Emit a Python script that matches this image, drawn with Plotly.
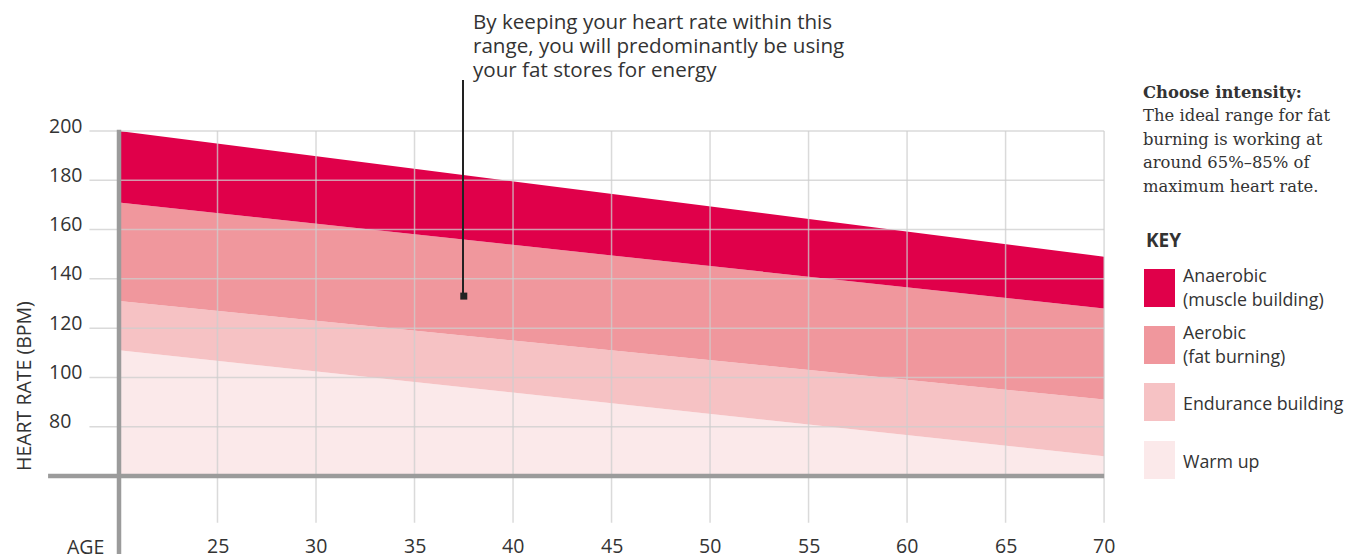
import plotly.graph_objects as go

# chart data
ages = [20, 70]
max_hr = [200, 149]
anaerobic_low = [171, 128]
aerobic_low = [131, 91]
endurance_low = [111, 68]
baseline = [60, 60]

zone_names = ["Warm up", "Endurance building", "Aerobic\n(fat burning)", "Anaerobic\n(muscle building)"]
zone_colors = ["#fbe9ea", "#f6c2c4", "#f0979d", "#e0004a"]

x_ticks = [25, 30, 35, 40, 45, 50, 55, 60, 65, 70]
y_ticks = [80, 100, 120, 140, 160, 180, 200]

callout_lines = [
    "By keeping your heart rate within this",
    "range, you will predominantly be using",
    "your fat stores for energy",
]
note_lines = [
    "<b>Choose intensity:</b>",
    "The ideal range for fat",
    "burning is working at",
    "around 65%–85% of",
    "maximum heart rate.",
]

# page body has an 8px margin, so the figure starts at (8, 8) on screen
OFF = 8
W, H = 1352 - OFF, 554 - OFF
# plot area on screen: x 40..1110, y 120..554
PX0, PX1, PY0, PY1 = 40, 1110, 120, 554
L, R, T, B = PX0 - OFF, W - (PX1 - OFF), PY0 - OFF, H - (PY1 - OFF)


def px(x):
    return (x - PX0) / (PX1 - PX0)


def py(y):
    return (PY1 - y) / (PY1 - PY0)


GRID = "rgba(205,205,205,0.75)"
AXIS = "#9b9b9b"
TEXT = "#333333"
SANS = "Open Sans"
SERIF = "DejaVu Serif"

fig = go.Figure()

# stacked zone bands, bottom to top
bounds = [baseline, endurance_low, aerobic_low, anaerobic_low, max_hr]
fig.add_trace(go.Scatter(x=ages, y=bounds[0], mode="lines", line=dict(width=0),
                         hoverinfo="skip", showlegend=False))
for i, color in enumerate(zone_colors):
    fig.add_trace(go.Scatter(
        x=ages, y=bounds[i + 1], mode="lines", line=dict(width=0),
        fill="tonexty", fillcolor=color, name=zone_names[i].replace("\n", " "),
        showlegend=False,
    ))

shapes = []
# horizontal gridlines
for v in y_ticks:
    shapes.append(dict(type="line", x0=18.5, x1=70, y0=v, y1=v,
                       line=dict(color=GRID, width=1.5)))
# vertical gridlines
for a in x_ticks:
    shapes.append(dict(type="line", x0=a, x1=a, y0=41, y1=200,
                       line=dict(color=GRID, width=1.5)))
# axis lines
shapes.append(dict(type="line", x0=16.4, x1=70, y0=60, y1=60,
                   line=dict(color=AXIS, width=4.5)))
shapes.append(dict(type="line", x0=20, x1=20, y0=28, y1=200.5,
                   line=dict(color=AXIS, width=4.5)))
# callout line
shapes.append(dict(type="line", xref="paper", yref="paper",
                   x0=px(463), x1=px(463), y0=py(80), y1=py(296),
                   line=dict(color="#222222", width=2)))

# key swatches
swatch_tops = [269, 326, 383, 441]
for top, color in zip(swatch_tops, zone_colors[::-1]):
    shapes.append(dict(type="rect", xref="paper", yref="paper",
                       x0=px(1144), x1=px(1175), y0=py(top), y1=py(top + 38),
                       fillcolor=color, line=dict(width=0)))

# callout point
fig.add_trace(go.Scatter(x=[37.5], y=[133], mode="markers",
                         marker=dict(symbol="square", size=7, color="#222222"),
                         hoverinfo="skip", showlegend=False))


def label(x, y, text, size, family=SANS, anchor="left", **kw):
    return dict(x=px(x), y=py(y), xref="paper", yref="paper", text=text,
                xanchor=anchor, yanchor="middle", align="left", showarrow=False,
                font=dict(size=size, color=TEXT, family=family), **kw)


ann = []
for v in y_ticks:
    ann.append(dict(x=16.35, y=v, text=str(v), xanchor="left", yanchor="middle",
                    yshift=6, showarrow=False, font=dict(size=19.5, color=TEXT, family=SANS)))
for a in x_ticks:
    ann.append(dict(x=a, y=31.6, text=str(a), xanchor="center", yanchor="middle",
                    showarrow=False, font=dict(size=19.5, color=TEXT, family=SANS)))
ann.append(label(106, 546, "AGE", 19.5, anchor="right"))
ann.append(label(23, 386, "HEART RATE (BPM)", 19.5, anchor="center", textangle=-90))

# callout text
for i, line in enumerate(callout_lines):
    ann.append(label(471, 21 + 24 * i, line, 20.6))

# side note
for i, line in enumerate(note_lines):
    ann.append(label(1141, 92 + 23.6 * i, line, 16.4, family=SERIF))
ann.append(label(1144, 240, "<b>KEY</b>", 19))

# key labels
key_rows = [[275, 299], [332, 356], [403], [461]]
for rows, name in zip(key_rows, zone_names[::-1]):
    for y, part in zip(rows, name.split("\n")):
        ann.append(label(1181, y, part, 17.8))

fig.update_layout(
    width=W, height=H,
    margin=dict(l=L, r=R, t=T, b=B, pad=0),
    paper_bgcolor="white", plot_bgcolor="white",
    xaxis=dict(range=[15.99, 70.3], visible=False, fixedrange=True),
    yaxis=dict(range=[28.3, 204.5], visible=False, fixedrange=True),
    shapes=shapes, annotations=ann,
    showlegend=False,
)

fig.write_html("out.html")
